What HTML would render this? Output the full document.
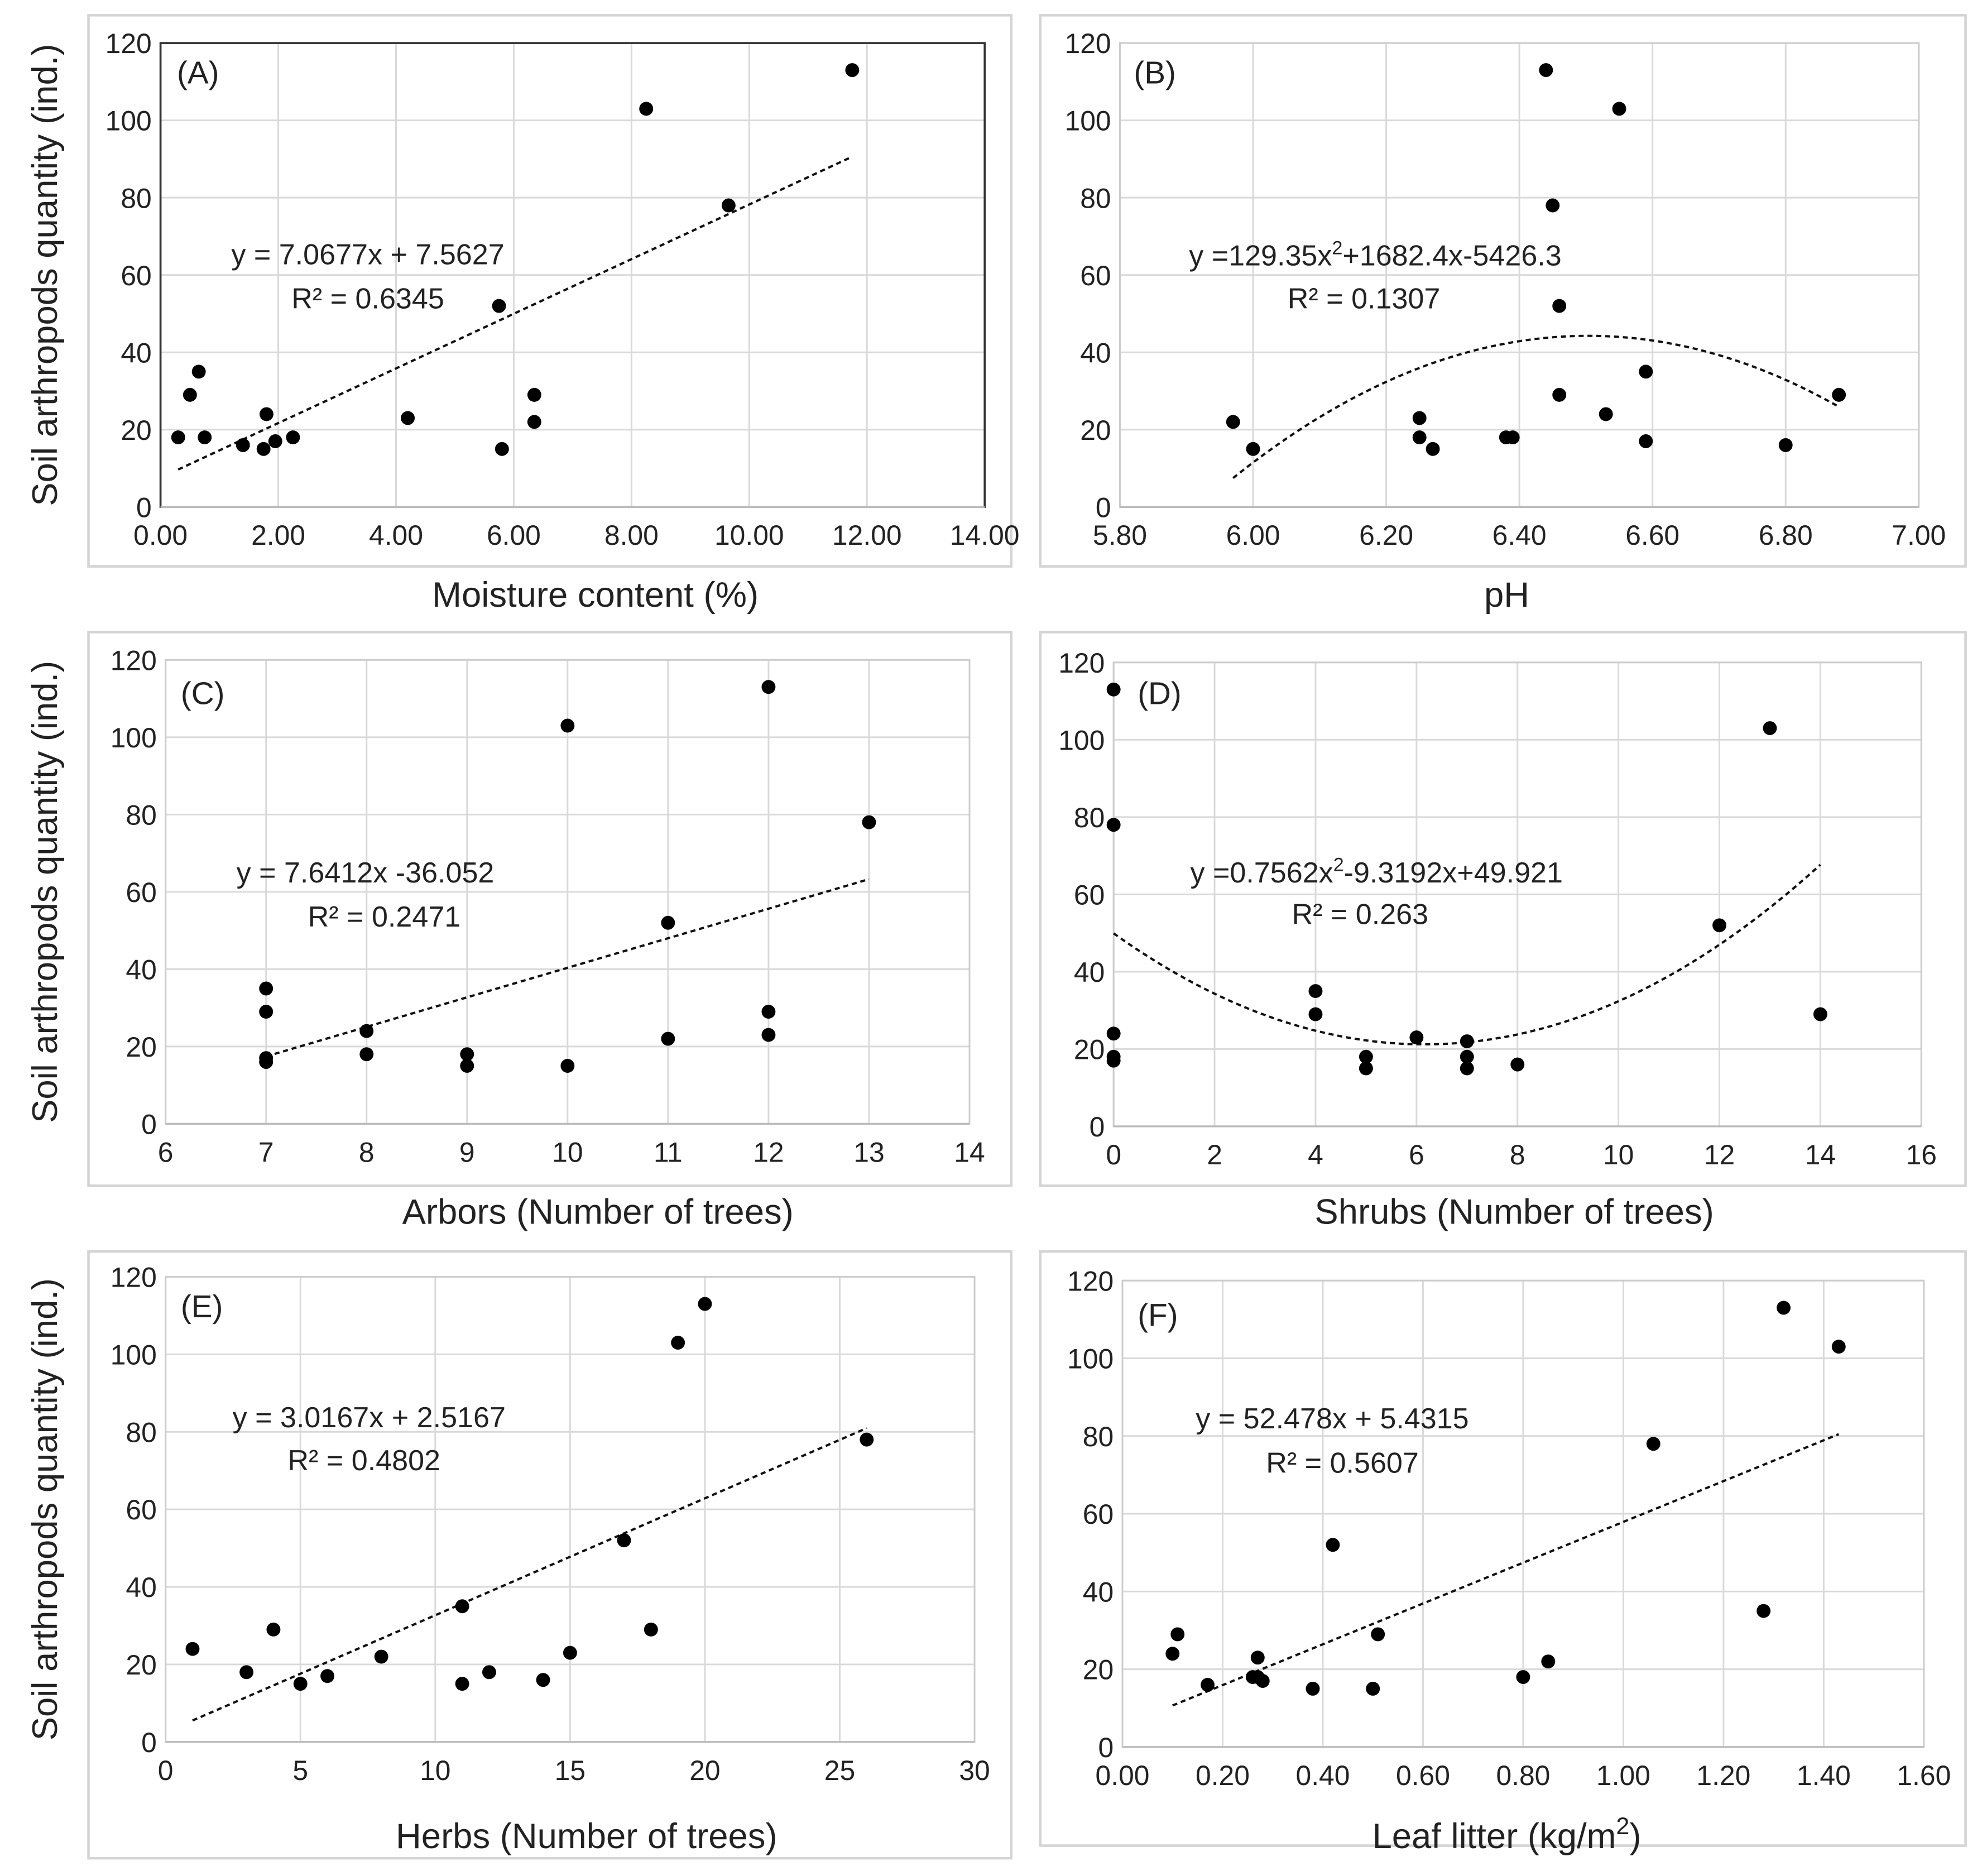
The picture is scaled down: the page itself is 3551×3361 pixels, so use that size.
<!DOCTYPE html>
<html><head><meta charset="utf-8"><style>
html,body{margin:0;padding:0;background:#fff}
svg{display:block}
text{font-family:"Liberation Sans",Arial,sans-serif;fill:#222}
</style></head><body>
<svg id="fig" width="3551" height="3361" viewBox="0 0 1568 1484" xmlns="http://www.w3.org/2000/svg"></svg>
<script>
const aX=[0.3,0.5,0.65,0.75,1.4,1.75,1.8,1.95,2.25,4.2,5.75,5.8,6.35,6.35,8.25,9.65,11.75];
const aY=[18,29,35,18,16,15,24,17,18,23,52,15,29,22,103,78,113];
const bX=[5.97,6.0,6.25,6.25,6.27,6.38,6.39,6.44,6.45,6.46,6.46,6.53,6.55,6.59,6.59,6.8,6.88];
const bY=[22,15,23,18,15,18,18,113,78,52,29,24,103,35,17,16,29];
const cX=[7,7,7,7,8,8,9,9,10,10,11,11,12,12,12,13];
const cY=[35,29,17,16,24,18,18,15,103,15,52,22,113,29,23,78];
const dX=[0,0,0,0,0,4,4,5,5,6,7,7,7,8,12,13,14];
const dY=[113,78,24,18,17,35,29,18,15,23,22,18,15,16,52,103,29];
const eX=[1,3,4,5,6,8,11,11,12,14,15,17,18,19,20,26];
const eY=[24,18,29,15,17,22,35,15,18,16,23,52,29,103,113,78];
const fX=[0.1,0.11,0.17,0.26,0.27,0.28,0.27,0.38,0.42,0.5,0.51,0.8,0.85,1.06,1.28,1.32,1.43];
const fY=[24,29,16,18,23,17,18,15,52,15,29,18,22,78,35,113,103];
const yTicks=[0,20,40,60,80,100,120];
const aTicks=[0,2,4,6,8,10,12,14];
const bTicks=[5.8,6.0,6.2,6.4,6.6,6.8,7.0];
const cTicks=[6,7,8,9,10,11,12,13,14];
const dTicks=[0,2,4,6,8,10,12,14,16];
const eTicks=[0,5,10,15,20,25,30];
const fTicks=[0,0.2,0.4,0.6,0.8,1.0,1.2,1.4,1.6];

const NS="http://www.w3.org/2000/svg";
const svg=document.getElementById('fig');
function mk(tag,attrs,parent){const e=document.createElementNS(NS,tag);for(const k in attrs)e.setAttribute(k,attrs[k]);(parent||svg).appendChild(e);return e;}

const panels=[
 {id:'a',box:[70,12,730,436],plot:[127,34,779,401],xs:aX,ys:aY,ticks:aTicks,dec:2,fit:x=>7.0677*x+7.5627,fr:[0.3,11.75],eq:['y = 7.0677x + 7.5627','R² = 0.6345'],eqp:[[291,209],[291,244]],lab:'(A)',labp:[140,66],xt:'Moisture content (%)',xtp:[471,480],frame:'#333',yt:true},
 {id:'b',box:[823,12,732,436],plot:[886,34,1518,401],xs:bX,ys:bY,ticks:bTicks,dec:2,fit:x=>-129.35*x*x+1682.4*x-5426.3,fr:[5.97,6.88],eq:['y =129.35x','R² = 0.1307'],eqp:[[1088,210],[1079,244]],lab:'(B)',labp:[897,66],xt:'pH',xtp:[1192,480],frame:'#ccc',quad:true},
 {id:'c',box:[70,500,730,438],plot:[131,522,767,889],xs:cX,ys:cY,ticks:cTicks,dec:0,fit:x=>7.6412*x-36.052,fr:[7,13],eq:['y = 7.6412x -36.052','R² = 0.2471'],eqp:[[289,698],[304,733]],lab:'(C)',labp:[143,557],xt:'Arbors (Number of trees)',xtp:[473,968],frame:'#ccc',yt:true},
 {id:'d',box:[823,500,732,438],plot:[881,524,1520,891],xs:dX,ys:dY,ticks:dTicks,dec:0,fit:x=>0.7562*x*x-9.3192*x+49.921,fr:[0,14],eq:['y =0.7562x','R² = 0.263'],eqp:[[1089,698],[1076,731]],lab:'(D)',labp:[900,557],xt:'Shrubs (Number of trees)',xtp:[1198,968],frame:'#ccc',quad2:true},
 {id:'e',box:[70,990,730,480],plot:[131,1010,771,1378],xs:eX,ys:eY,ticks:eTicks,dec:0,fit:x=>3.0167*x+2.5167,fr:[1,26],eq:['y = 3.0167x + 2.5167','R² = 0.4802'],eqp:[[292,1129],[288,1163]],lab:'(E)',labp:[143,1042],xt:'Herbs (Number of trees)',xtp:[464,1462],frame:'#ccc',yt:true},
 {id:'f',box:[823,990,732,470],plot:[888,1013,1522,1382],xs:fX,ys:fY,ticks:fTicks,dec:2,fit:x=>52.478*x+5.4315,fr:[0.1,1.43],eq:['y = 52.478x + 5.4315','R² = 0.5607'],eqp:[[1054,1130],[1062,1165]],lab:'(F)',labp:[900,1049],xt:'Leaf litter (kg/m',xtp:[1192,1462],frame:'#ccc',sup:true}
];

panels.forEach(p=>{
 const g=mk('g',{});
 
 
 const [L,T,R,B]=p.plot;
 const x0=p.ticks[0],x1=p.ticks[p.ticks.length-1];
 const sx=v=>L+(v-x0)/(x1-x0)*(R-L);
 const sy=v=>B-v/120*(B-T);
 const bx=mk('rect',{x:p.box[0],y:p.box[1],width:p.box[2],height:p.box[3],fill:'none',stroke:'#d4d4d4','stroke-width':2},g);
 
 
 yTicks.forEach(t=>{
  const l=mk('line',{x1:L,x2:R,y1:sy(t),y2:sy(t),stroke:'#d9d9d9','stroke-width':1.3},g);
  
  
  const tx=mk('text',{x:L-7,y:sy(t)+8,'text-anchor':'end','font-size':22},g);
  tx.textContent=t;
  
  
 });
 p.ticks.forEach(t=>{
  const l=mk('line',{x1:sx(t),x2:sx(t),y1:T,y2:B,stroke:'#d9d9d9','stroke-width':1.3},g);
  
  
  const tx=mk('text',{x:sx(t),y:B+30,'text-anchor':'middle','font-size':22},g);
  tx.textContent=t.toFixed(p.dec);
  
  
 });
 const fr=mk('rect',{x:L,y:T,width:R-L,height:B-T,fill:'none',stroke:p.frame,'stroke-width':p.frame==='#333'?1.6:1.3},g);
 
 
 const ax=mk('line',{x1:L,x2:R,y1:B,y2:B,stroke:'#bbb','stroke-width':1.5},g);
 
 
 let d='';
 for(let i=0;i<=60;i++){const v=p.fr[0]+(p.fr[1]-p.fr[0])*i/60;d+=(i?'L':'M')+sx(v).toFixed(2)+' '+sy(p.fit(v)).toFixed(2);}
 const tl=mk('path',{d:d,fill:'none',stroke:'#111','stroke-width':1.8,'stroke-dasharray':'4 3'},g);
 
 
 p.xs.forEach((v,i)=>{
  const c=mk('circle',{cx:sx(v),cy:sy(p.ys[i]),r:5.5,fill:'#000'},g);
  
  
 });
 const e1=mk('text',{x:p.eqp[0][0],y:p.eqp[0][1],'text-anchor':'middle','font-size':23},g);
 
 
 if(p.quad){e1.innerHTML='y =129.35x<tspan dy="-9" font-size="15">2</tspan><tspan dy="9">+1682.4x-5426.3</tspan>';}
 else if(p.quad2){e1.innerHTML='y =0.7562x<tspan dy="-9" font-size="15">2</tspan><tspan dy="9">-9.3192x+49.921</tspan>';}
 else e1.textContent=p.eq[0];
 const e2=mk('text',{x:p.eqp[1][0],y:p.eqp[1][1],'text-anchor':'middle','font-size':23},g);
 e2.textContent=p.eq[1];
 
 
 const lb=mk('text',{x:p.labp[0],y:p.labp[1],'font-size':25},g);
 lb.textContent=p.lab;
 
 
 const xt=mk('text',{x:p.xtp[0],y:p.xtp[1],'text-anchor':'middle','font-size':28},g);
 if(p.sup) xt.innerHTML='Leaf litter (kg/m<tspan dy="-11" font-size="19">2</tspan><tspan dy="11">)</tspan>';
 else xt.textContent=p.xt;
 
 
 if(p.yt){
  const cy=(T+B)/2;
  const yt=mk('text',{x:0,y:0,'text-anchor':'middle','font-size':28,transform:'translate(45,'+cy+') rotate(-90)'},g);
  yt.textContent='Soil arthropods quantity (ind.)';
  
  
 }
});
</script>
</body></html>
